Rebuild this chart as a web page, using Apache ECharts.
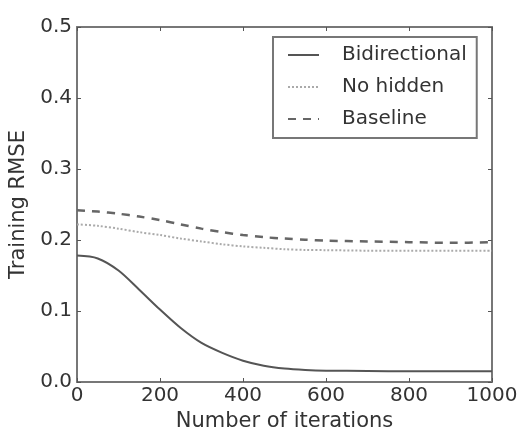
<!DOCTYPE html>
<html>
<head>
<meta charset="utf-8">
<script src="https://cdn.jsdelivr.net/npm/echarts@6/dist/echarts.min.js"></script>
<style>
  html, body { margin: 0; padding: 0; background: #fff; }
  #chart { width: 521px; height: 432px; }
</style>
</head>
<body>
<div id="chart"></div>
<script>
// iterations sampled along the x axis
const iterations = [0, 50, 100, 150, 200, 250, 300, 350, 400, 450, 500, 550, 600, 700, 800, 900, 1000]
const bidirectional = [0.178, 0.174, 0.157, 0.130, 0.102, 0.076, 0.055, 0.041, 0.030, 0.023, 0.019, 0.017, 0.016, 0.0155, 0.015, 0.015, 0.015]
const noHidden = [0.222, 0.220, 0.216, 0.211, 0.207, 0.202, 0.198, 0.194, 0.191, 0.189, 0.187, 0.186, 0.1857, 0.185, 0.185, 0.185, 0.185]
const baseline = [0.242, 0.240, 0.237, 0.233, 0.228, 0.222, 0.216, 0.211, 0.207, 0.204, 0.202, 0.2005, 0.199, 0.198, 0.197, 0.196, 0.197]
const seriesNames = ['Bidirectional', 'No hidden', 'Baseline']

const font = 'DejaVu Sans'
// onZero off so the mirrored axes sit on the top/right edges of the box
const frameLine = { show: true, onZero: false, lineStyle: { color: '#777', width: 2 } }
const innerTick = { show: true, inside: true, length: 4, lineStyle: { color: '#555' } }

const chart = echarts.init(document.getElementById('chart'))

function pairs(ys) {
  return iterations.map((x, i) => [x, ys[i]])
}

chart.setOption({
  animation: false,
  textStyle: { fontFamily: font, color: '#333' },
  // fixed box, don't let v6 shrink the grid to fit the axis names
  grid: { left: 77, right: 29, top: 27, bottom: 50, outerBoundsMode: 'none' },
  legend: {
    orient: 'vertical',
    left: 273,
    top: 37,
    width: 210,
    padding: [8, 10, 9, 14],
    itemGap: 12,
    itemWidth: 31,
    itemHeight: 21,
    borderColor: '#777',
    borderWidth: 2,
    borderRadius: 0,
    itemStyle: { opacity: 0 },
    data: seriesNames,
    textStyle: { fontFamily: font, fontSize: 20, color: '#333', padding: [0, 0, 0, 18] }
  },
  xAxis: [{
    type: 'value',
    min: 0,
    max: 1000,
    interval: 200,
    name: 'Number of iterations',
    nameLocation: 'middle',
    nameGap: 29,
    nameTextStyle: { fontFamily: font, fontSize: 21, color: '#333' },
    axisLine: frameLine,
    axisTick: innerTick,
    axisLabel: { fontFamily: font, fontSize: 20, color: '#333', margin: 4, formatter: v => String(v) },
    splitLine: { show: false }
  }, {
    type: 'value',
    position: 'top',
    min: 0,
    max: 1000,
    interval: 200,
    axisLine: frameLine,
    axisTick: innerTick,
    axisLabel: { show: false },
    splitLine: { show: false }
  }],
  yAxis: [{
    type: 'value',
    min: 0,
    max: 0.5,
    interval: 0.1,
    name: 'Training RMSE',
    nameLocation: 'middle',
    nameGap: 46,
    nameTextStyle: { fontFamily: font, fontSize: 21, color: '#333' },
    axisLine: frameLine,
    axisTick: innerTick,
    axisLabel: { fontFamily: font, fontSize: 20, color: '#333', margin: 5, formatter: v => v.toFixed(1) },
    splitLine: { show: false }
  }, {
    type: 'value',
    position: 'right',
    min: 0,
    max: 0.5,
    interval: 0.1,
    axisLine: frameLine,
    axisTick: innerTick,
    axisLabel: { show: false },
    splitLine: { show: false }
  }],
  series: [{
    name: seriesNames[0],
    type: 'line',
    data: pairs(bidirectional),
    smooth: 0.3,
    symbol: 'none',
    itemStyle: { color: '#555' },
    lineStyle: { color: '#555', width: 2, type: 'solid' }
  }, {
    name: seriesNames[1],
    type: 'line',
    data: pairs(noHidden),
    smooth: 0.3,
    symbol: 'none',
    itemStyle: { color: '#aaa' },
    lineStyle: { color: '#aaa', width: 2, type: [2, 2] }
  }, {
    name: seriesNames[2],
    type: 'line',
    data: pairs(baseline),
    smooth: 0.3,
    symbol: 'none',
    itemStyle: { color: '#666' },
    lineStyle: { color: '#666', width: 2.5, type: [8, 7] }
  }]
})
</script>
</body>
</html>
